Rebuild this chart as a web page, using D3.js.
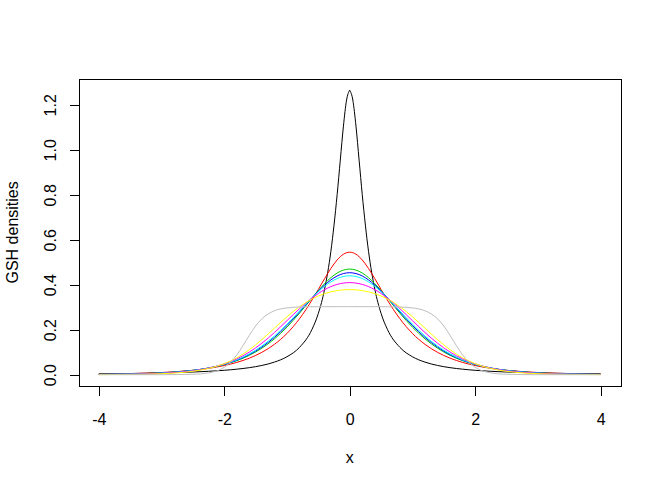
<!DOCTYPE html>
<html>
<head>
<meta charset="utf-8">
<script src="https://cdn.jsdelivr.net/npm/d3@7"></script>
<style>
  body { margin: 0; background: #ffffff; }
  svg { display: block; }
  text { font-family: "Liberation Sans", Arial, Helvetica, sans-serif; font-size: 16px; fill: #000; }
</style>
</head>
<body>
<svg id="chart" width="661" height="484"></svg>
<script>
// ---- data ----
const xGrid = [-4,-3.5,-3,-2.5,-2.25,-2,-1.9,-1.8,-1.7,-1.6,-1.5,-1.4,-1.2,-1,-0.8,-0.6,-0.5,-0.4,-0.3,-0.2,-0.15,-0.1,-0.05,0,
               0.05,0.1,0.15,0.2,0.3,0.4,0.5,0.6,0.8,1,1.2,1.4,1.5,1.6,1.7,1.8,1.9,2,2.25,2.5,3,3.5,4];

const densBlack = [0.0038,0.0053,0.0078,0.0119,0.0151,0.0195,0.0218,0.0245,0.0276,0.0313,0.0357,0.0411,0.0560,0.0799,0.1215,0.2022,0.2726,0.3804,0.5487,0.8009,0.9542,1.1052,1.2211,1.2654,
                   1.2211,1.1052,0.9542,0.8009,0.5487,0.3804,0.2726,0.2022,0.1215,0.0799,0.0560,0.0411,0.0357,0.0313,0.0276,0.0245,0.0218,0.0195,0.0151,0.0119,0.0078,0.0053,0.0038];
const densRed = [0.0024,0.0048,0.0097,0.0197,0.0283,0.0407,0.0471,0.0546,0.0633,0.0735,0.0855,0.0994,0.1350,0.1835,0.2488,0.3322,0.3792,0.4271,0.4723,0.5102,0.5248,0.5356,0.5423,0.5446,
                 0.5423,0.5356,0.5248,0.5102,0.4723,0.4271,0.3792,0.3322,0.2488,0.1835,0.1350,0.0994,0.0855,0.0735,0.0633,0.0546,0.0471,0.0407,0.0283,0.0197,0.0097,0.0048,0.0024];
const densGreen = [0.0015,0.0035,0.0083,0.0194,0.0295,0.0448,0.0529,0.0623,0.0733,0.0861,0.1009,0.1179,0.1593,0.2115,0.2735,0.3410,0.3742,0.4050,0.4316,0.4521,0.4597,0.4652,0.4685,0.4697,
                   0.4685,0.4652,0.4597,0.4521,0.4316,0.4050,0.3742,0.3410,0.2735,0.2115,0.1593,0.1179,0.1009,0.0861,0.0733,0.0623,0.0529,0.0448,0.0295,0.0194,0.0083,0.0035,0.0015];
const densBlue = [0.0013,0.0032,0.0078,0.0191,0.0296,0.0457,0.0543,0.0643,0.0760,0.0895,0.1051,0.1230,0.1660,0.2186,0.2790,0.3418,0.3717,0.3986,0.4215,0.4389,0.4452,0.4497,0.4525,0.4535,
                  0.4525,0.4497,0.4452,0.4389,0.4215,0.3986,0.3717,0.3418,0.2790,0.2186,0.1660,0.1230,0.1051,0.0895,0.0760,0.0643,0.0543,0.0457,0.0296,0.0191,0.0078,0.0032,0.0013];
const densCyan = [0.0011,0.0028,0.0073,0.0187,0.0296,0.0465,0.0555,0.0660,0.0783,0.0926,0.1090,0.1277,0.1720,0.2249,0.2835,0.3421,0.3690,0.3928,0.4126,0.4275,0.4328,0.4367,0.4390,0.4398,
                  0.4390,0.4367,0.4328,0.4275,0.4126,0.3928,0.3690,0.3421,0.2835,0.2249,0.1720,0.1277,0.1090,0.0926,0.0783,0.0660,0.0555,0.0465,0.0296,0.0187,0.0073,0.0028,0.0011];
const densMagenta = [0.0007,0.0021,0.0061,0.0174,0.0292,0.0480,0.0582,0.0703,0.0843,0.1006,0.1192,0.1399,0.1875,0.2403,0.2934,0.3411,0.3612,0.3782,0.3917,0.4015,0.4049,0.4074,0.4089,0.4094,
                     0.4089,0.4074,0.4049,0.4015,0.3917,0.3782,0.3612,0.3411,0.2934,0.2403,0.1875,0.1399,0.1192,0.1006,0.0843,0.0703,0.0582,0.0480,0.0292,0.0174,0.0061,0.0021,0.0007];
const densYellow = [0.0004,0.0013,0.0045,0.0153,0.0277,0.0490,0.0609,0.0751,0.0918,0.1110,0.1325,0.1561,0.2070,0.2577,0.3023,0.3369,0.3500,0.3605,0.3685,0.3740,0.3759,0.3773,0.3781,0.3783,
                    0.3781,0.3773,0.3759,0.3740,0.3685,0.3605,0.3500,0.3369,0.3023,0.2577,0.2070,0.1561,0.1325,0.1110,0.0918,0.0751,0.0609,0.0490,0.0277,0.0153,0.0045,0.0013,0.0004];
const densGray = [0.0000,0.0000,0.0001,0.0018,0.0079,0.0329,0.0553,0.0879,0.1297,0.1751,0.2165,0.2486,0.2842,0.2969,0.3009,0.3021,0.3023,0.3024,0.3025,0.3025,0.3025,0.3026,0.3026,0.3026,
                  0.3026,0.3026,0.3025,0.3025,0.3025,0.3024,0.3023,0.3021,0.3009,0.2969,0.2842,0.2486,0.2165,0.1751,0.1297,0.0879,0.0553,0.0329,0.0079,0.0018,0.0001,0.0000,0.0000];

const seriesNames = ["t=-3","t=-2","t=-1","t=0","t=1","t=2","t=3","t=10"];
const seriesValues = [densBlack, densRed, densGreen, densBlue, densCyan, densMagenta, densYellow, densGray];
const seriesColors = ["#000000","#FF0000","#00CD00","#0000FF","#00FFFF","#FF00FF","#FFFF00","#BEBEBE"];
const seriesCusp = [true, false, false, false, false, false, false, false];

const xTicks = [-4, -2, 0, 2, 4];
const yTicks = [0, 0.2, 0.4, 0.6, 0.8, 1.0, 1.2];
const xLabel = "x";
const yLabel = "GSH densities";

(function draw() {
  // ---- layout (R base graphics, mar = c(5,4,4,2)+0.1 at 96 dpi) ----
  const W = 661, H = 484, lineH = 19.2;
  const pLeft = 4.1 * lineH, pRight = W - 2.1 * lineH, pTop = 4.1 * lineH, pBottom = H - 5.1 * lineH;

  const xMin = d3.min(xGrid), xMax = d3.max(xGrid);
  const allY = seriesValues.flat();
  const yMin = d3.min(allY), yMax = d3.max(allY);
  const xPad = (xMax - xMin) * 0.04, yPad = (yMax - yMin) * 0.04;

  const x = d3.scaleLinear().domain([xMin - xPad, xMax + xPad]).range([pLeft, pRight]);
  const y = d3.scaleLinear().domain([yMin - yPad, yMax + yPad]).range([pBottom, pTop]);

  const svg = d3.select("#chart");

  // curves
  const line = d3.line()
    .x(d => x(d[0]))
    .y(d => y(d[1]))
    .curve(d3.curveMonotoneX);

  const pieces = [];
  seriesValues.forEach((vals, i) => {
    const pts = xGrid.map((xv, j) => [xv, vals[j]]);
    if (seriesCusp[i]) {
      const mid = xGrid.indexOf(0);
      pieces.push({ pts: pts.slice(0, mid + 1), color: seriesColors[i], name: seriesNames[i] });
      pieces.push({ pts: pts.slice(mid), color: seriesColors[i], name: seriesNames[i] });
    } else {
      pieces.push({ pts, color: seriesColors[i], name: seriesNames[i] });
    }
  });

  svg.append("g").selectAll("path")
    .data(pieces)
    .join("path")
    .attr("d", d => line(d.pts))
    .attr("fill", "none")
    .attr("stroke", d => d.color)
    .attr("stroke-width", 1)
    .attr("data-name", d => d.name);

  // box
  svg.append("rect")
    .attr("x", Math.round(pLeft) + 0.5).attr("y", Math.round(pTop) + 0.5)
    .attr("width", Math.round(pRight) - Math.round(pLeft)).attr("height", Math.round(pBottom) - Math.round(pTop))
    .attr("fill", "none").attr("stroke", "#000").attr("stroke-width", 1);

  const tickLen = 0.5 * lineH;

  // x axis
  const gx = svg.append("g").attr("transform", `translate(0,${Math.round(pBottom) + 0.5})`)
    .call(d3.axisBottom(x).tickValues(xTicks).tickSize(tickLen).tickSizeOuter(0).tickFormat(d => String(d)));
  gx.select(".domain").remove();
  gx.append("line")
    .attr("x1", x(xTicks[0])).attr("x2", x(xTicks[xTicks.length - 1]))
    .attr("stroke", "#000");
  gx.selectAll(".tick line").attr("stroke", "#000").attr("shape-rendering", "crispEdges");
  gx.selectAll(".tick text").attr("y", 38).attr("dy", null)
    .style("font-family", '"Liberation Sans", Arial, sans-serif').style("font-size", "16px").attr("fill", "#000");

  // y axis
  const gy = svg.append("g").attr("transform", `translate(${Math.round(pLeft) + 0.5},0)`)
    .call(d3.axisLeft(y).tickValues(yTicks).tickSize(tickLen).tickSizeOuter(0).tickFormat(d3.format(".1f")));
  gy.select(".domain").remove();
  gy.append("line")
    .attr("y1", y(yTicks[0])).attr("y2", y(yTicks[yTicks.length - 1]))
    .attr("stroke", "#000");
  gy.selectAll(".tick line").attr("stroke", "#000").attr("shape-rendering", "crispEdges");
  gy.selectAll(".tick text")
    .attr("x", null).attr("dy", null)
    .attr("text-anchor", "middle")
    .attr("transform", "translate(-23.5,0) rotate(-90)")
    .style("font-family", '"Liberation Sans", Arial, sans-serif').style("font-size", "16px").attr("fill", "#000");

  // axis titles
  svg.append("text")
    .attr("x", (pLeft + pRight) / 2).attr("y", 462.5)
    .attr("text-anchor", "middle")
    .text(xLabel);

  svg.append("text")
    .attr("transform", `translate(17.5,${(pTop + pBottom) / 2}) rotate(-90)`)
    .attr("text-anchor", "middle")
    .text(yLabel);
})();
</script>
</body>
</html>
